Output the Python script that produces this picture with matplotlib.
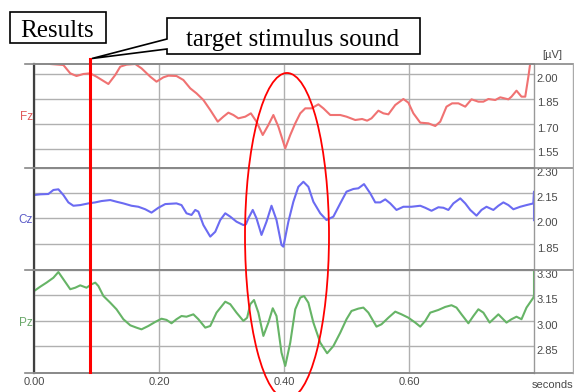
import matplotlib
matplotlib.use("Agg")
import matplotlib.pyplot as plt
from matplotlib.lines import Line2D
from matplotlib.patches import Ellipse, Polygon, Rectangle

plt.rcParams["font.family"] = ["Liberation Sans", "DejaVu Sans"]

W, H = 574, 392
T_MAX = 0.80
stim_t = 0.09  # red marker (target stimulus sound)

# --- traces: time [s], amplitude [uV] ---
fz_t = [0.000, 0.015, 0.026, 0.047, 0.058, 0.068, 0.079, 0.090, 0.100, 0.119,
        0.130, 0.138, 0.148, 0.162, 0.172, 0.186, 0.196, 0.207, 0.215, 0.228,
        0.239, 0.250, 0.260, 0.271, 0.282, 0.294, 0.303, 0.311, 0.319, 0.327,
        0.338, 0.347, 0.356, 0.366, 0.375, 0.383, 0.391, 0.402, 0.410, 0.418,
        0.426, 0.434, 0.444, 0.455, 0.463, 0.474, 0.490, 0.500, 0.514, 0.525,
        0.533, 0.540, 0.551, 0.559, 0.567, 0.578, 0.591, 0.599, 0.607, 0.618,
        0.631, 0.642, 0.650, 0.660, 0.669, 0.679, 0.690, 0.700, 0.711, 0.719,
        0.727, 0.738, 0.746, 0.759, 0.764, 0.772, 0.780, 0.786, 0.791, 0.794,
        0.800]
fz_v = [2.090, 2.075, 2.057, 2.051, 2.001, 1.985, 1.997, 2.001, 1.981, 1.937,
        1.991, 2.041, 2.053, 2.057, 2.031, 1.981, 1.951, 1.977, 1.987, 1.985,
        1.961, 1.911, 1.881, 1.841, 1.781, 1.711, 1.741, 1.765, 1.751, 1.731,
        1.741, 1.761, 1.711, 1.631, 1.691, 1.751, 1.681, 1.551, 1.631, 1.701,
        1.761, 1.791, 1.791, 1.815, 1.791, 1.751, 1.751, 1.741, 1.721, 1.727,
        1.717, 1.731, 1.777, 1.761, 1.755, 1.811, 1.847, 1.825, 1.761, 1.705,
        1.701, 1.685, 1.711, 1.801, 1.821, 1.821, 1.801, 1.845, 1.831, 1.831,
        1.847, 1.841, 1.857, 1.845, 1.861, 1.897, 1.861, 1.861, 1.981, 2.062,
        2.150]

cz_t = [0.000, 0.010, 0.023, 0.031, 0.039, 0.047, 0.055, 0.063, 0.074, 0.087,
        0.098, 0.108, 0.122, 0.132, 0.143, 0.156, 0.167, 0.178, 0.188, 0.199,
        0.210, 0.228, 0.236, 0.244, 0.252, 0.258, 0.263, 0.271, 0.282, 0.290,
        0.298, 0.306, 0.314, 0.324, 0.335, 0.339, 0.343, 0.350, 0.356, 0.364,
        0.372, 0.380, 0.388, 0.396, 0.399, 0.407, 0.415, 0.423, 0.431, 0.439,
        0.447, 0.458, 0.468, 0.479, 0.490, 0.500, 0.511, 0.519, 0.528, 0.538,
        0.546, 0.554, 0.562, 0.570, 0.580, 0.591, 0.604, 0.618, 0.626, 0.636,
        0.647, 0.655, 0.663, 0.671, 0.682, 0.690, 0.698, 0.708, 0.716, 0.724,
        0.735, 0.743, 0.751, 0.759, 0.767, 0.778, 0.788, 0.799, 0.800, 0.800]
cz_v = [2.140, 2.144, 2.146, 2.170, 2.174, 2.140, 2.096, 2.076, 2.080, 2.090,
        2.096, 2.104, 2.110, 2.100, 2.090, 2.076, 2.070, 2.055, 2.035, 2.064,
        2.086, 2.090, 2.080, 2.031, 2.021, 2.051, 2.041, 1.961, 1.892, 1.921,
        1.991, 2.031, 2.011, 1.981, 1.961, 1.965, 2.001, 2.051, 2.001, 1.902,
        1.981, 2.076, 1.991, 1.842, 1.832, 1.981, 2.100, 2.189, 2.219, 2.189,
        2.100, 2.031, 1.991, 2.011, 2.090, 2.160, 2.176, 2.180, 2.205, 2.150,
        2.096, 2.096, 2.114, 2.090, 2.051, 2.070, 2.070, 2.076, 2.064, 2.046,
        2.067, 2.064, 2.051, 2.090, 2.120, 2.090, 2.051, 2.017, 2.051, 2.070,
        2.051, 2.076, 2.096, 2.080, 2.055, 2.070, 2.080, 2.090, 2.160, 1.990]

pz_t = [0.000, 0.010, 0.020, 0.031, 0.039, 0.047, 0.058, 0.066, 0.074, 0.084,
        0.092, 0.098, 0.103, 0.111, 0.122, 0.132, 0.143, 0.154, 0.164, 0.172,
        0.183, 0.194, 0.204, 0.212, 0.220, 0.228, 0.236, 0.244, 0.255, 0.263,
        0.274, 0.282, 0.292, 0.306, 0.314, 0.324, 0.335, 0.341, 0.346, 0.352,
        0.359, 0.367, 0.375, 0.382, 0.388, 0.396, 0.402, 0.410, 0.418, 0.426,
        0.432, 0.439, 0.447, 0.458, 0.469, 0.479, 0.490, 0.500, 0.508, 0.519,
        0.527, 0.535, 0.548, 0.556, 0.567, 0.578, 0.588, 0.599, 0.610, 0.618,
        0.626, 0.634, 0.647, 0.658, 0.668, 0.676, 0.684, 0.695, 0.703, 0.711,
        0.719, 0.729, 0.743, 0.756, 0.764, 0.772, 0.780, 0.788, 0.799, 0.800,
        0.800]
pz_v = [3.175, 3.201, 3.225, 3.254, 3.288, 3.245, 3.186, 3.195, 3.209, 3.195,
        3.215, 3.225, 3.205, 3.146, 3.106, 3.067, 3.008, 2.972, 2.958, 2.948,
        2.968, 2.992, 3.011, 3.004, 2.984, 3.008, 3.027, 3.023, 3.037, 3.008,
        2.958, 2.968, 3.047, 3.112, 3.097, 3.047, 2.998, 3.017, 3.097, 3.122,
        3.047, 2.909, 2.988, 3.073, 3.027, 2.810, 2.731, 2.869, 3.067, 3.136,
        3.146, 3.106, 2.988, 2.869, 2.806, 2.849, 2.928, 3.008, 3.057, 3.071,
        3.077, 3.047, 2.964, 2.978, 3.017, 3.053, 3.037, 3.017, 2.988, 2.964,
        2.998, 3.047, 3.063, 3.081, 3.091, 3.077, 3.037, 2.984, 3.027, 3.067,
        3.047, 2.988, 3.037, 2.988, 3.008, 3.023, 3.008, 3.077, 3.136, 3.150,
        3.300]

x_ticks = [0.0, 0.2, 0.4, 0.6]
x_labels = ["0.00", "0.20", "0.40", "0.60"]

# name, t, v, ylim, yticks, line colour, label colour
panels = [
    ("Fz", fz_t, fz_v, (1.436, 2.057), [2.00, 1.85, 1.70, 1.55], "#f07272", "#e05a5a"),
    ("Cz", cz_t, cz_v, (1.693, 2.304), [2.30, 2.15, 2.00, 1.85], "#6b6bf2", "#5c5cc8"),
    ("Pz", pz_t, pz_v, (2.689, 3.300), [3.30, 3.15, 3.00, 2.85], "#66b466", "#6aa86a"),
]


def fx(px):
    return px / W


def fy(py):
    return 1 - py / H


fig = plt.figure(figsize=(W / 100, H / 100), dpi=100)
edges = [64, 167.5, 270, 373]   # panel borders (pixel rows)
left, right = 34, 534

for i, (name, t, v, ylim, ticks, col, lab_col) in enumerate(panels):
    top, bot = edges[i], edges[i + 1]
    ax = fig.add_axes([fx(left), fy(bot), fx(right - left), (bot - top) / H])
    ax.plot(t, v, color=col, lw=1.5, solid_joinstyle="round")
    ax.set_xlim(0, T_MAX)
    ax.set_ylim(*ylim)
    ax.set_xticks(x_ticks)
    ax.set_yticks(ticks)
    ax.set_yticklabels([f"{y:.2f}" for y in ticks])
    ax.yaxis.tick_right()
    ax.tick_params(axis="y", length=0, pad=2, labelsize=8, labelcolor="#4a4a4a")
    ax.tick_params(axis="x", length=0, pad=3, labelsize=8, labelcolor="#4a4a4a")
    plt.setp(ax.get_yticklabels(), va="top")
    ax.set_xticklabels(x_labels if i == 2 else [])
    ax.grid(True, color="#b0b0b0", lw=1.0)
    ax.set_axisbelow(True)
    for s in ["top", "bottom"]:
        ax.spines[s].set_color("#888888")
        ax.spines[s].set_linewidth(1.2)
    ax.spines["left"].set_color("#404040")
    ax.spines["left"].set_linewidth(1.6)
    ax.spines["right"].set_color("#999999")
    ax.spines["right"].set_linewidth(1.0)
    fig.text(fx(33), fy((top + bot) / 2 + 1), name, color=lab_col, fontsize=8.5,
             ha="right", va="center")

# panel borders stretched left (tick stubs) and into the label box on the right
for e in edges:
    fig.add_artist(Line2D([fx(25), fx(573)], [fy(e), fy(e)], color="#888888", lw=1.2))
fig.add_artist(Line2D([fx(573), fx(573)], [fy(64), fy(373)], color="#aaaaaa", lw=1.0))

fig.text(fx(552), fy(55), "[µV]", fontsize=8, color="#4a4a4a", ha="center", va="center")
fig.text(fx(553), fy(385), "seconds", fontsize=8, color="#4a4a4a", ha="center", va="center")

# stimulus marker
stim_x = fx(left) + stim_t / T_MAX * fx(right - left)
fig.add_artist(Line2D([stim_x, stim_x], [fy(59), fy(372)], color="red", lw=2.2, zorder=5))

# ellipse around the response at ~0.4 s
fig.add_artist(Ellipse((fx(287), fy(236)), fx(84), 326 / H, transform=fig.transFigure,
                       fill=False, ec="red", lw=1.3, zorder=5))

# annotation boxes
fig.add_artist(Rectangle((fx(9.5), fy(43)), fx(96.5), 31 / H, transform=fig.transFigure,
                         fc="white", ec="black", lw=1.2, zorder=6))
fig.text(fx(57), fy(36.7), "Results", family="Liberation Serif", fontsize=18,
         ha="center", va="baseline", zorder=7)

callout = [(167, 18), (420, 18), (420, 54), (167, 54), (167, 49), (92, 58.5), (167, 39)]
fig.add_artist(Polygon([(fx(x), fy(y)) for x, y in callout], closed=True,
                       transform=fig.transFigure, fc="white", ec="black", lw=1.2, zorder=6))
fig.text(fx(293), fy(46), "target stimulus sound", family="Liberation Serif", fontsize=18,
         ha="center", va="baseline", zorder=7)

fig.savefig("out.png", dpi=100)
